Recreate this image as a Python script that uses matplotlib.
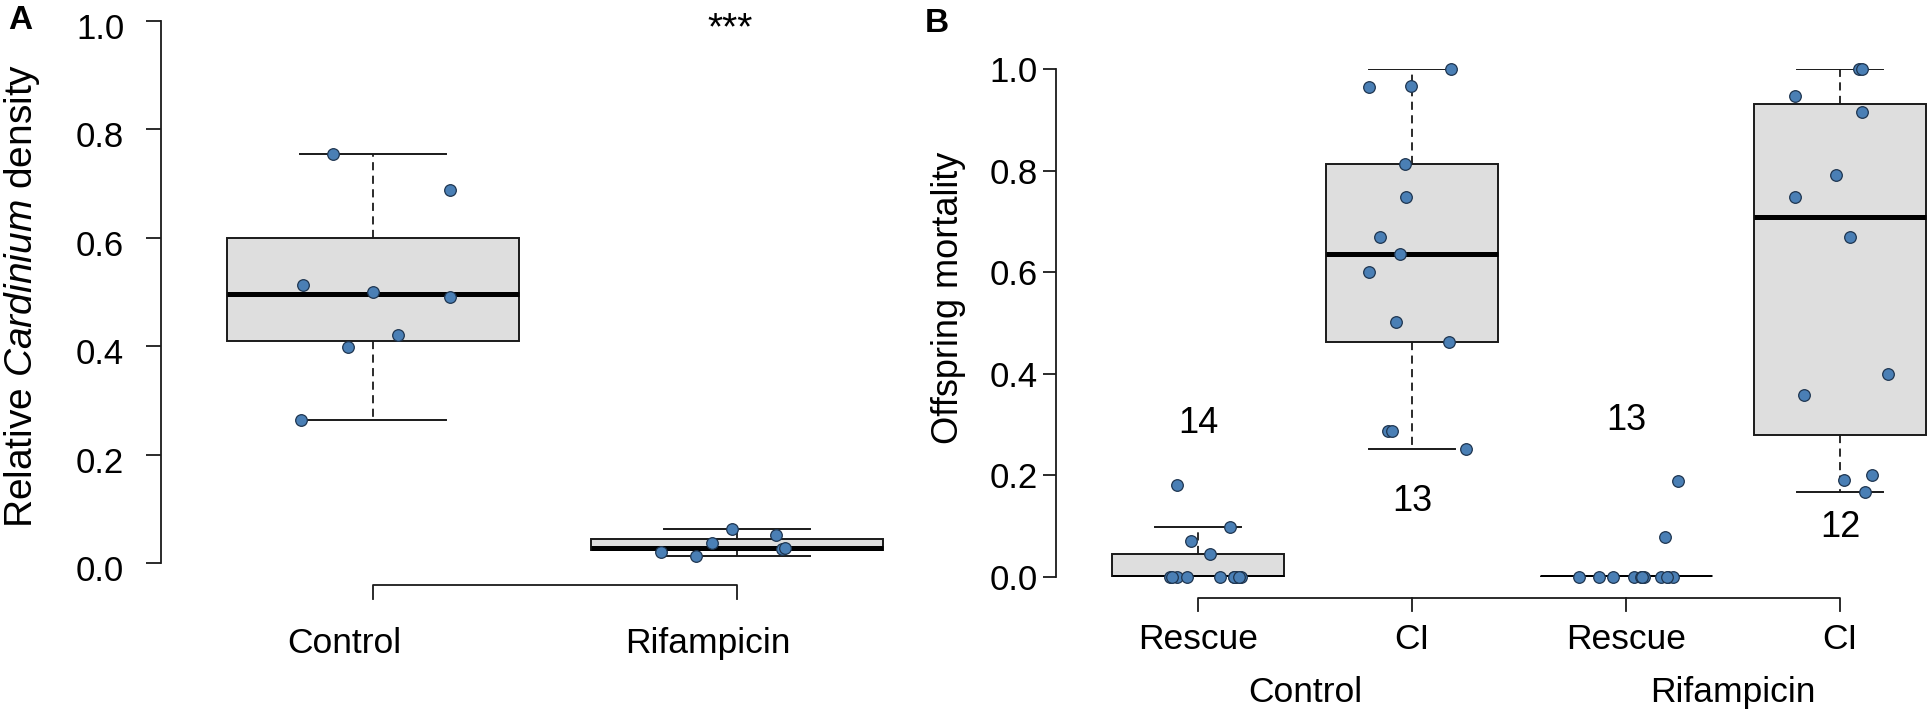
import matplotlib
matplotlib.use("Agg")
import matplotlib.pyplot as plt
import matplotlib.transforms as mtransforms
import numpy as np

plt.rcParams['font.family'] = ['Liberation Sans', 'DejaVu Sans']
plt.rcParams['mathtext.fontset'] = 'custom'
plt.rcParams['mathtext.rm'] = 'Liberation Sans'
plt.rcParams['mathtext.it'] = 'Liberation Sans:italic'

# Panel A: relative Cardinium density
a_groups = ["Control", "Rifampicin"]
a_control = [0.755, 0.688, 0.513, 0.500, 0.491, 0.421, 0.399, 0.264]
a_rif = [0.062, 0.052, 0.037, 0.021, 0.012, 0.026, 0.027]
# horizontal jitter (fraction of group spacing)
a_control_jit = [-0.110, 0.212, -0.192, 0.0, 0.212, 0.069, -0.069, -0.198]
a_rif_jit = [-0.014, 0.107, -0.069, -0.209, -0.113, 0.124, 0.132]

# Panel B: offspring mortality
b_ticks = ["Rescue", "CI", "Rescue", "CI"]
b_groups = ["Control", "Rifampicin"]
b_ctrl_rescue = [0.182, 0.099, 0.071, 0.045, 0, 0, 0, 0, 0, 0, 0, 0, 0, 0]
b_ctrl_ci = [1.0, 0.967, 0.964, 0.813, 0.749, 0.669, 0.636, 0.600, 0.502,
             0.463, 0.287, 0.287, 0.252]
b_rif_rescue = [0.188, 0.078, 0, 0, 0, 0, 0, 0, 0, 0, 0, 0, 0]
b_rif_ci = [1.0, 1.0, 0.946, 0.916, 0.791, 0.749, 0.669, 0.400, 0.358,
            0.200, 0.191, 0.167]
b_ctrl_rescue_jit = [-0.096, 0.150, -0.033, 0.056, -0.131, -0.098, -0.051,
                     0.103, 0.168, 0.178, 0.201, -0.120, 0.170, 0.190]
b_ctrl_ci_jit = [0.182, -0.005, -0.201, -0.033, -0.028, -0.150, -0.056,
                 -0.201, -0.075, 0.173, -0.112, -0.093, 0.252]
b_rif_rescue_jit = [0.243, 0.182, -0.220, -0.126, -0.061, 0.037, 0.070,
                    0.084, 0.164, 0.196, 0.220, 0.075, 0.190]
b_rif_ci_jit = [0.089, 0.103, -0.210, 0.103, -0.019, -0.210, 0.047, 0.224,
                -0.168, 0.150, 0.021, 0.117]
b_n_label_y = [0.303, 0.148, 0.309, 0.098]

PT_COL = '#4a7fb5'
PT_EDGE = '#1e3550'
BOX_FILL = '#dedede'
LINE_COL = '#1a1a1a'


def hinge_stats(vals):
    # Tukey hinges, like R's boxplot
    v = np.sort(np.asarray(vals, dtype=float))
    n = len(v)
    med = np.median(v)
    half = (n + 1) // 2
    q1 = np.median(v[:half])
    q3 = np.median(v[n - half:])
    iqr = q3 - q1
    lo = v[v >= q1 - 1.5 * iqr].min()
    hi = v[v <= q3 + 1.5 * iqr].max()
    return dict(med=med, q1=q1, q3=q3, whislo=lo, whishi=hi, fliers=[])


def draw_boxes(ax, datasets, positions):
    stats = [hinge_stats(d) for d in datasets]
    ax.bxp(stats, positions=positions, widths=0.8, patch_artist=True,
           showfliers=False,
           boxprops=dict(facecolor=BOX_FILL, edgecolor=LINE_COL, linewidth=1.4),
           medianprops=dict(color='black', linewidth=3.6, solid_capstyle='butt'),
           whiskerprops=dict(color=LINE_COL, linewidth=1.3, linestyle=(0, (4.5, 3))),
           capprops=dict(color=LINE_COL, linewidth=1.4), capwidths=0.4,
           zorder=2)


def draw_points(ax, datasets, jitters, positions):
    for d, j, p in zip(datasets, jitters, positions):
        ax.scatter(p + np.asarray(j), d, s=70, facecolor=PT_COL,
                   edgecolor=PT_EDGE, linewidth=0.9, zorder=4, clip_on=False)


def style_axis(ax, tick_len, pad):
    for s in ['top', 'right', 'bottom']:
        ax.spines[s].set_visible(False)
    ax.spines['left'].set_bounds(0, 1)
    ax.spines['left'].set_linewidth(1.3)
    ax.spines['left'].set_color(LINE_COL)
    ax.set_ylim(0, 1)
    ax.set_yticks([0, 0.2, 0.4, 0.6, 0.8, 1.0])
    ax.set_yticklabels(['0.0', '0.2', '0.4', '0.6', '0.8', '1.0'])
    ax.tick_params(axis='y', length=tick_len, width=1.3, labelsize=25,
                   pad=pad, color=LINE_COL)
    ax.set_xticks([])


W, H = 1932, 717
fig = plt.figure(figsize=(W / 100, H / 100), dpi=100)

# ---- Panel A ----
axA = fig.add_axes([161 / W, (H - 563) / H, (900 - 161) / W, 542 / H])
a_pos = [1, 2]
draw_boxes(axA, [a_control, a_rif], a_pos)
draw_points(axA, [a_control, a_rif], [a_control_jit, a_rif_jit], a_pos)
axA.set_xlim(1 - (373 - 161) / 364, 1 + (900 - 373) / 364)
style_axis(axA, 10.5, 16)
shift = mtransforms.ScaledTranslation(0, -5 / 100, fig.dpi_scale_trans)
for lab in axA.get_yticklabels():
    lab.set_transform(lab.get_transform() + shift)
axA.plot([1, 1, 2, 2], [-0.066, -0.041, -0.041, -0.066], color=LINE_COL,
         lw=1.3, clip_on=False)
for p, g in zip(a_pos, a_groups):
    axA.text(p - 0.08, -0.148, g, ha='center', va='center', fontsize=25.5,
             clip_on=False)
axA.text(1.98, 0.985, '***', ha='center', va='center', fontsize=28)

fig.text(22 / W, 1 - 296 / H, r'Relative $\mathit{Cardinium}$ density',
         rotation=90, ha='center', va='center', fontsize=28)
fig.text(8 / W, 1 - 5 / H, 'A', ha='left', va='top', fontsize=24,
         fontweight='bold')

# ---- Panel B ----
axB = fig.add_axes([1056 / W, (H - 577) / H, (W - 1056) / W, 508 / H])
b_pos = [1, 2, 3, 4]
b_data = [b_ctrl_rescue, b_ctrl_ci, b_rif_rescue, b_rif_ci]
draw_boxes(axB, b_data, b_pos)
draw_points(axB, b_data,
            [b_ctrl_rescue_jit, b_ctrl_ci_jit, b_rif_rescue_jit, b_rif_ci_jit],
            b_pos)
axB.set_xlim(1 - (1198 - 1056) / 214, 4 + (W - 1840) / 214)
style_axis(axB, 9.6, 3.5)
axB.plot([1, 1, 4, 4], [-0.066, -0.042, -0.042, -0.066], color=LINE_COL,
         lw=1.3, clip_on=False)
axB.plot([2, 2], [-0.066, -0.042], color=LINE_COL, lw=1.3, clip_on=False)
axB.plot([3, 3], [-0.066, -0.042], color=LINE_COL, lw=1.3, clip_on=False)
for p, t in zip(b_pos, b_ticks):
    axB.text(p, -0.124, t, ha='center', va='center', fontsize=25.5,
             clip_on=False)
for i, g in enumerate(b_groups):
    axB.text(b_pos[2 * i] + 0.5, -0.228, g, ha='center', va='center',
             fontsize=25.5, clip_on=False)
for p, d, y in zip(b_pos, b_data, b_n_label_y):
    axB.text(p, y, str(len(d)), ha='center', va='center', fontsize=26)

fig.text(949 / W, 1 - 298 / H, 'Offspring mortality', rotation=90,
         ha='center', va='center', fontsize=26)
fig.text(925 / W, 1 - 8 / H, 'B', ha='left', va='top', fontsize=24,
         fontweight='bold')

fig.savefig('out.png', dpi=100)
